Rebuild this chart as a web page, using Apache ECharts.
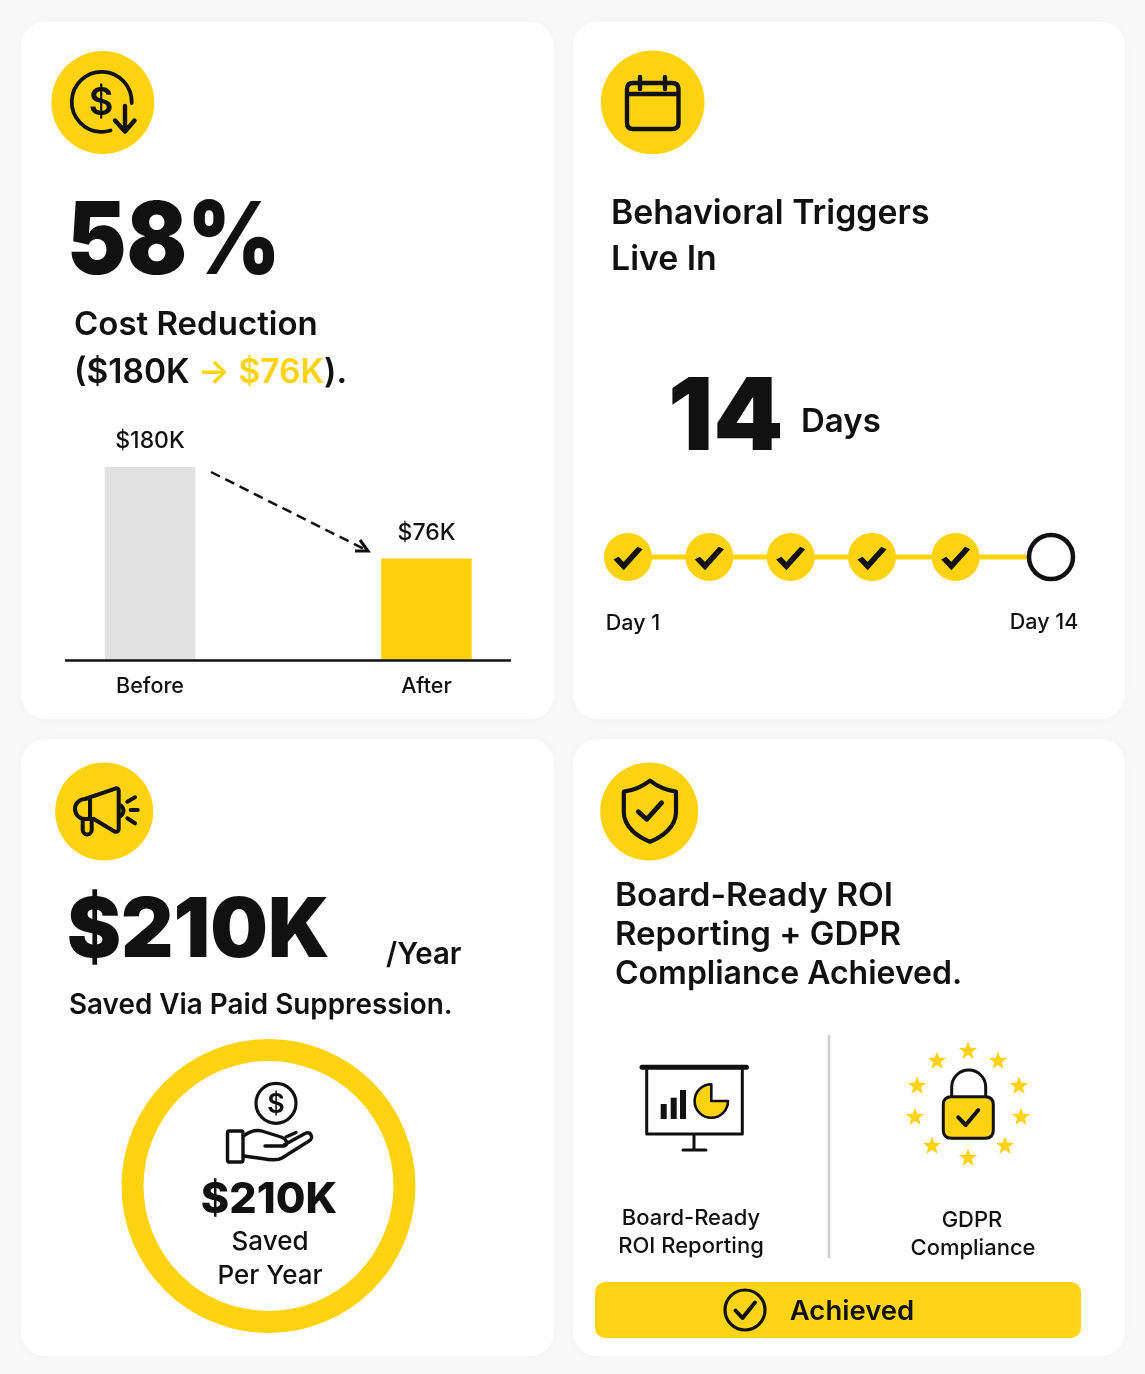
<!DOCTYPE html>
<html>
<head>
<meta charset="utf-8">
<title>Results</title>
<style>
  html, body { margin: 0; padding: 0; background: #f8f8f8; }
  #main { width: 1145px; height: 1374px; }
</style>
<script src="https://cdn.jsdelivr.net/npm/echarts@6/dist/echarts.min.js"></script>
</head>
<body>
<div id="main"></div>
<script>
// bars are drawn as tall as they appear in the picture, the labels carry the stated amounts
var barCategories = ['Before', 'After'];
var barValues = [180, 95];
var barLabels = ['$180K', '$76K'];
// timeline
var stepDays = [1, 3.5, 6, 8.5, 11.07, 14];
var stepDone = [true, true, true, true, true, false];
var stepLabels = ['Day 1', '', '', '', '', 'Day 14'];
// ring
var ringValues = [210];

var YELLOW = '#fdd20f';
var INK = '#111111';
var FONT = 'Inter, "Noto Sans", sans-serif';

var myChart = echarts.init(document.getElementById('main'), null, { renderer: 'canvas' });

function card(x, y, w, h) {
  return {
    type: 'rect', z: 0,
    shape: { x: x, y: y, width: w, height: h, r: 24 },
    style: { fill: '#fefefe', shadowBlur: 10, shadowColor: 'rgba(0,0,0,0.025)' }
  };
}

// sx squeezes a line sideways where the picture's letters are narrower or wider than Inter
function txt(text, x, y, size, weight, align, sx) {
  return {
    type: 'text', z: 6,
    x: x, y: y, scaleX: sx || 1,
    style: {
      text: text, x: 0, y: 0,
      fill: INK,
      fontFamily: FONT, fontSize: size, fontWeight: weight,
      align: align || 'left', verticalAlign: 'middle'
    }
  };
}

var graphics = [
  card(21, 22, 533, 697),
  card(573, 22, 552, 697),
  card(21, 739, 533, 617),
  card(573, 739, 552, 617),

  txt('58%', 67, 244, 101, 900, 'left', 0.885),
  txt('Cost Reduction', 74, 325, 33, 600),
  {
    type: 'text', z: 6,
    style: {
      text: '{a|($180K }{b|→ $76K}{a|).}',
      x: 74, y: 373, verticalAlign: 'middle',
      fontFamily: FONT,
      rich: {
        a: { fontFamily: FONT, fontSize: 33.5, fontWeight: 600, fill: INK },
        b: { fontFamily: FONT, fontSize: 33.5, fontWeight: 600, fill: YELLOW }
      }
    }
  },

  txt('Behavioral Triggers', 611, 214, 33.5, 600, 'left', 1.01),
  txt('Live In', 611, 260, 33.5, 600, 'left', 1.01),
  txt('14', 668, 420, 100, 900),
  txt('Days', 801, 422, 33, 600),

  txt('$210K', 67, 932, 82, 900, 'left', 0.99),
  txt('/Year', 386, 955, 30, 600, 'left', 0.98),
  txt('Saved Via Paid Suppression.', 69, 1006, 28, 600, 'left', 0.994),
  txt('$210K', 269, 1200, 43, 800, 'center'),
  txt('Saved', 270, 1242, 26, 500, 'center'),
  txt('Per Year', 270, 1276, 26, 500, 'center'),

  txt('Board-Ready ROI', 615, 896, 32, 600, 'left', 1.047),
  txt('Reporting + GDPR', 615, 935, 32, 600, 'left', 1.03),
  txt('Compliance Achieved.', 615, 974, 32, 600),
  txt('Board-Ready', 691, 1218, 22, 500, 'center'),
  txt('ROI Reporting', 691, 1246, 22, 500, 'center'),
  txt('GDPR', 972, 1220, 22, 500, 'center'),
  txt('Compliance', 973, 1248, 22, 500, 'center'),
  txt('Achieved', 852, 1312, 27.5, 600, 'center'),

  // baseline under the bars
  { type: 'line', z: 5, shape: { x1: 65, y1: 660.5, x2: 511, y2: 660.5 }, style: { stroke: INK, lineWidth: 2.5 } },
  // dashed arrow between the bars
  { type: 'line', z: 5, shape: { x1: 211, y1: 472, x2: 366, y2: 550 }, style: { stroke: INK, lineWidth: 2.5, lineDash: [10, 6] } },
  { type: 'polyline', z: 5, shape: { points: [[355, 551], [368, 551], [360, 540]] }, style: { stroke: INK, lineWidth: 3, fill: 'none' } },
  // divider in the last card
  { type: 'line', z: 5, shape: { x1: 829, y1: 1035, x2: 829, y2: 1258 }, style: { stroke: '#cfcfcf', lineWidth: 2.5 } },
  // achieved banner
  { type: 'rect', z: 1, shape: { x: 595, y: 1282, width: 486, height: 56, r: 10 }, style: { fill: '#fdd516' } }
];

// icons are plain svg paths in page pixels
function stroke(d, w, fill) {
  return {
    type: 'path',
    shape: { pathData: d },
    style: { fill: fill || 'none', stroke: INK, lineWidth: w, lineCap: 'round', lineJoin: 'round' }
  };
}
function disc(cx, cy, r) {
  return { type: 'circle', shape: { cx: cx, cy: cy, r: r }, style: { fill: YELLOW } };
}
function glyph(text, x, y, size, weight) {
  return {
    type: 'text',
    style: { text: text, x: x, y: y, fill: INK, fontFamily: FONT, fontSize: size, fontWeight: weight, align: 'center', verticalAlign: 'middle' }
  };
}
function star(cx, cy, r) {
  var d = '';
  for (var i = 0; i < 10; i++) {
    var rad = i % 2 ? r * 0.42 : r;
    var a = -Math.PI / 2 + i * Math.PI / 5;
    d += (i ? 'L' : 'M') + (cx + rad * Math.cos(a)).toFixed(2) + ' ' + (cy + rad * Math.sin(a)).toFixed(2);
  }
  return { type: 'path', shape: { pathData: d + 'Z' }, style: { fill: YELLOW } };
}

var starCentres = [[968, 1051], [998, 1061], [1019, 1086], [1021, 1117], [1005, 1146], [968, 1158], [932, 1146], [915, 1117], [917, 1086], [937, 1061]];

function renderIcons() {
  var kids = [
    // cost icon
    disc(102.8, 102.5, 51.5),
    stroke('M131.7 103A30 30 0 1 0 110.5 130.5', 3.8),
    glyph('$', 101, 104, 38, 600),
    stroke('M125 106L125 131M115 120.5L125 131.5L134.5 120.5', 4.4),
    // calendar icon
    disc(652.7, 102.3, 51.8),
    stroke('M633 83L672 83Q678.5 83 678.5 89L678.5 123Q678.5 129 672 129L633 129Q627 129 627 123L627 89Q627 83 633 83ZM627 94L678.5 94M640 77L640 89M665 77L665 89', 4.4),
    // megaphone icon
    disc(104.2, 811.5, 49),
    stroke('M85 799L116 788.3Q118.7 788 118.7 791L118.7 829Q118.7 832.5 115 831.7L93.3 818.8L85 819A10 10 0 0 1 85 799ZM90 799L90 818.5M82.7 819L82.7 830A4.5 4.5 0 0 0 91.7 830L91.7 819M118.7 804.5A6.5 6.5 0 0 1 118.7 817M127.3 801.7L135 797.3M130.7 810L137.7 810M127.3 818.3L135 823.3', 4),
    // shield icon
    disc(649.2, 811.5, 49),
    stroke('M650 780.7Q638 790 623.8 791.7L623.8 812C623.8 827 638 837 650 841.7C662 837 676 827 676 812L676 791.7Q662 790 650 780.7Z', 4.2),
    stroke('M638.3 811.7L646.7 819.3L661.7 802.7', 4.8),
    // hand and coin
    { type: 'circle', shape: { cx: 276, cy: 1103.3, r: 20 }, style: { fill: 'none', stroke: INK, lineWidth: 3.2 } },
    glyph('$', 276, 1105, 27, 600),
    stroke('M229 1131L241 1131Q243 1131 243 1133L243 1160Q243 1162 241 1162L229 1162Q227.5 1162 227.5 1160L227.5 1133Q227.5 1131 229 1131Z', 3.4),
    stroke('M243.5 1136C250 1131 258 1129 265 1132L281 1137C287 1139 289 1145 284 1146L265 1146M284 1145L305 1133.5C311 1131 314 1138 309 1141L282 1158C277 1161 270 1160 262 1158.5L243.5 1156M286 1137L296 1132.5', 3.4),
    // presentation icon
    stroke('M642 1067.3L746.5 1067.3', 5),
    stroke('M646.7 1068L646.7 1134L742.3 1134L742.3 1068M694 1134L694 1150M683 1150L706 1150', 3),
    { type: 'rect', shape: { x: 660.7, y: 1104, width: 6, height: 15 }, style: { fill: INK } },
    { type: 'rect', shape: { x: 670.7, y: 1097.7, width: 6, height: 21.3 }, style: { fill: INK } },
    { type: 'rect', shape: { x: 680, y: 1090, width: 6, height: 29 }, style: { fill: INK } },
    stroke('M711.3 1084.3A16.7 16.7 0 1 0 728 1101L711.3 1101Z', 2.6, YELLOW),
    // lock icon
    stroke('M951.7 1096.7L951.7 1087A17 17 0 0 1 985.7 1087L985.7 1096.7', 3),
    stroke('M951.3 1096.7L985.3 1096.7Q993.3 1096.7 993.3 1104.7L993.3 1130.3Q993.3 1138.3 985.3 1138.3L951.3 1138.3Q943.3 1138.3 943.3 1130.3L943.3 1104.7Q943.3 1096.7 951.3 1096.7Z', 3, YELLOW),
    stroke('M958.3 1117.3L965.7 1125L978.3 1110', 4),
    // achieved check
    { type: 'circle', shape: { cx: 745, cy: 1310, r: 20 }, style: { fill: 'none', stroke: INK, lineWidth: 3.2 } },
    stroke('M735.5 1310.5L742.5 1318L755 1302.5', 4)
  ];
  for (var i = 0; i < starCentres.length; i++) {
    kids.push(star(starCentres[i][0], starCentres[i][1], 9.5));
  }
  return { type: 'group', children: kids };
}

var stepData = [];
var checkData = [];
for (var i = 0; i < stepDays.length; i++) {
  stepData.push({
    value: [stepDays[i], 0.5],
    symbolSize: stepDone[i] ? 48 : 44,
    itemStyle: stepDone[i]
      ? { color: YELLOW, borderWidth: 0 }
      : { color: '#ffffff', borderColor: INK, borderWidth: 4.5 },
    label: {
      show: stepLabels[i] !== '',
      formatter: stepLabels[i],
      position: 'bottom',
      distance: 6,
      offset: [i === 0 ? 5 : -7, i === 0 ? 26 : 24],
      color: INK, fontFamily: FONT, fontSize: 21.5, fontWeight: 500
    }
  });
  if (stepDone[i]) {
    checkData.push([stepDays[i], 0.5]);
  }
}

var option = {
  animation: false,
  backgroundColor: '#f8f8f8',
  graphic: { elements: graphics },
  grid: [
    { left: 11.75, top: 467, width: 553, height: 193.5, containLabel: false },
    { left: 628, top: 507, width: 423, height: 100, containLabel: false }
  ],
  xAxis: [
    {
      gridIndex: 0, type: 'category', data: barCategories,
      axisLine: { show: false }, axisTick: { show: false }, splitLine: { show: false },
      axisLabel: { color: INK, fontFamily: FONT, fontSize: 21.5, fontWeight: 500, margin: 15 }
    },
    { gridIndex: 1, type: 'value', min: 1, max: 14, show: false }
  ],
  yAxis: [
    { gridIndex: 0, type: 'value', min: 0, max: 180, show: false },
    { gridIndex: 1, type: 'value', min: 0, max: 1, show: false }
  ],
  series: [
    {
      type: 'bar', xAxisIndex: 0, yAxisIndex: 0, barWidth: 90.5, z: 2, silent: true,
      data: [
        { value: barValues[0], itemStyle: { color: '#e2e2e2' } },
        { value: barValues[1], itemStyle: { color: '#fdd00d' } }
      ],
      label: {
        show: true, position: 'top', distance: 14,
        color: INK, fontFamily: FONT, fontSize: 23, fontWeight: 500,
        formatter: function (p) { return barLabels[p.dataIndex]; }
      }
    },
    {
      type: 'line', xAxisIndex: 1, yAxisIndex: 1, z: 3, silent: true, clip: false,
      symbol: 'circle', showSymbol: true, showAllSymbol: true,
      lineStyle: { color: YELLOW, width: 5 },
      data: stepData
    },
    {
      type: 'scatter', xAxisIndex: 1, yAxisIndex: 1, z: 4, silent: true, clip: false,
      symbol: 'path://M2 12L9 19L24 3', symbolSize: [24, 18],
      itemStyle: { color: 'none', borderColor: INK, borderWidth: 5.5, opacity: 1 },
      data: checkData
    },
    {
      type: 'pie', center: [268.5, 1186], radius: [125, 147], z: 2, silent: true,
      label: { show: false }, labelLine: { show: false },
      itemStyle: { color: YELLOW },
      data: ringValues
    },
    {
      type: 'custom', coordinateSystem: 'none', z: 7, silent: true,
      renderItem: renderIcons,
      data: [0]
    }
  ]
};

myChart.setOption(option);
</script>
</body>
</html>
